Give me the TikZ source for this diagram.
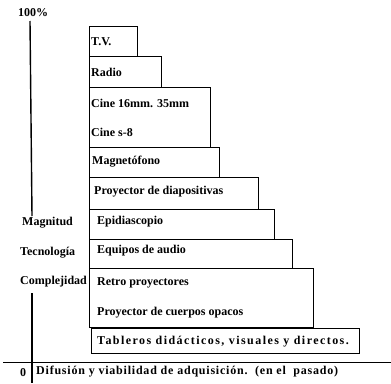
\documentclass[tikz,border=0pt]{standalone}
\usepackage{fontspec}
\setmainfont{Liberation Serif}
\usetikzlibrary{positioning}

\begin{document}
\begin{tikzpicture}[x=1pt,y=1pt]
\tikzstyle{every node}+=[inner sep=0pt, font=\fontsize{12}{14}\selectfont\bfseries]
\tikzstyle{box}=[draw=black, line width=1.1pt, anchor=north west]
\tikzstyle{lbl}=[anchor=west]
\useasboundingbox (0,0) rectangle (391,-383);
% escalones
\node [box, minimum width=48, minimum height=30] (tv) at (89,-26) {};
\node [box, minimum width=72, minimum height=31] (radio) at (89,-56) {};
\node [box, minimum width=121, minimum height=60] (cine) at (89,-87) {};
\node [box, minimum width=130, minimum height=30] (magneto) at (89,-147) {};
\node [box, minimum width=169, minimum height=32] (diapo) at (89,-177) {};
\node [box, minimum width=185, minimum height=30] (epi) at (89,-209) {};
\node [box, minimum width=203, minimum height=29] (audio) at (89,-239) {};
\node [box, minimum width=224, minimum height=59] (retro) at (89,-268) {};
\node [box, minimum width=268, minimum height=25] (tableros) at (91,-328) {};
% textos
\node [lbl] (ttv) at (91,-42) {T.V.};
\node [lbl] (tradio) at (91,-72) {Radio};
\node [lbl] (tcine) at (91,-103) {Cine 16mm. 35mm};
\node [lbl] (tcines) at (91,-132) {Cine s-8};
\node [lbl] (tmagneto) at (92,-162) {Magnetófono};
\node [lbl] (tdiapo) at (94,-192) {Proyector de diapositivas};
\node [lbl] (tepi) at (97,-222) {Epidiascopio};
\node [lbl] (taudio) at (97,-251) {Equipos de audio};
\node [lbl] (tretro) at (97,-283) {Retro proyectores};
\node [lbl] (topacos) at (97,-313) {Proyector de cuerpos opacos};
\node [lbl] (ttableros) at (97,-342) {\addfontfeature{LetterSpace=12}Tableros didácticos, visuales y directos.};
\node [lbl] (tdifusion) at (36,-372) {\addfontfeature{LetterSpace=6.5}Difusión y viabilidad de adquisición.~~(en el~~pasado)};
% eje
\node (pct) at (33,-13) {100\%};
\node [lbl] (mag) at (22,-223) {Magnitud};
\node [lbl] (tec) at (20,-253) {Tecnología};
\node [lbl] (comp) at (20,-282) {Complejidad};
\node (cero) at (23,-373) {0};
\coordinate (ejetop) at (30,-21);
\coordinate (ejemid) at (32,-216);
\coordinate (ejelow) at (32,-293);
\coordinate (ejebot) at (32,-383);
\coordinate (basel) at (3,-362);
\coordinate (baser) at (391,-362);
\draw [line width=1.4pt] (ejetop) -- (ejemid);
\draw [line width=1.4pt] (ejelow) -- (ejebot);
\draw [line width=1pt] (basel) -- (baser);
\end{tikzpicture}
\end{document}
